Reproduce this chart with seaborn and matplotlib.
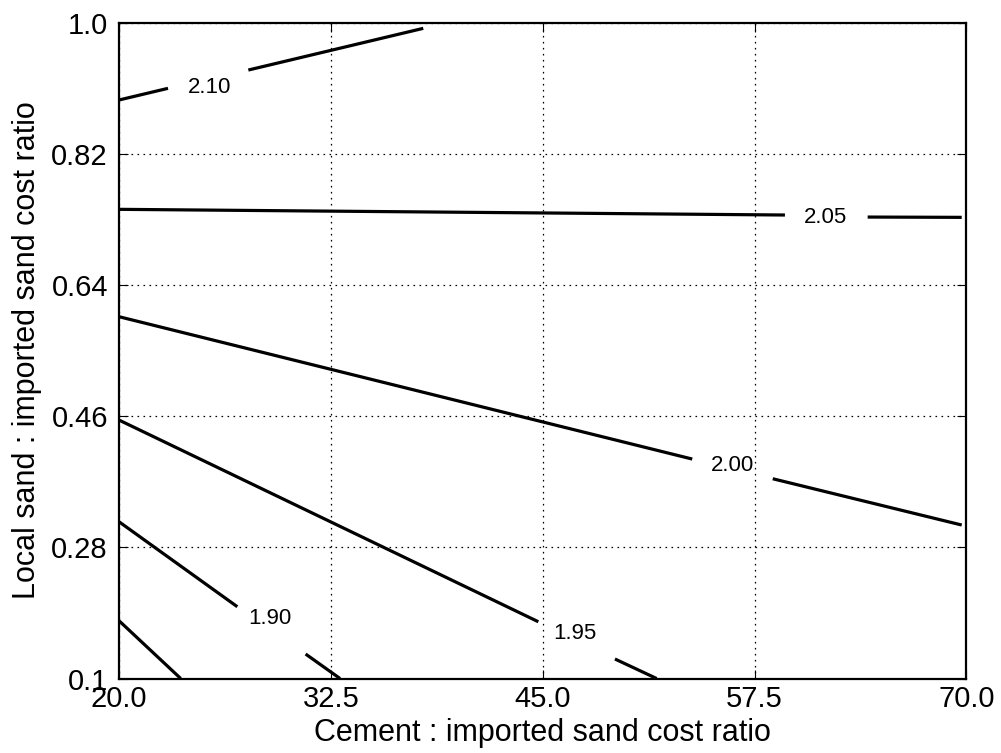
import matplotlib
matplotlib.use("Agg")
import matplotlib.pyplot as plt
import numpy as np
import pandas as pd
import seaborn as sns

# Contour lines of the cost surface, stored as straight segments
# (each labelled contour is split where its value label sits).
seg_level = [1.85, 1.90, 1.90, 1.95, 1.95, 2.00, 2.00, 2.05, 2.05, 2.10, 2.10]
seg_x0 = [20.00, 20.00, 31.01, 20.00, 49.26, 20.00, 58.57, 20.00, 64.17, 20.00, 27.63]
seg_y0 = [0.1793, 0.3151, 0.1336, 0.4546, 0.1268, 0.5964, 0.3741, 0.7437, 0.7331, 0.8937, 0.9348]
seg_x1 = [23.64, 26.98, 33.04, 44.74, 51.72, 53.82, 69.72, 59.29, 69.72, 22.89, 37.95]
seg_y1 = [0.1000, 0.1985, 0.1000, 0.1779, 0.1000, 0.4011, 0.3106, 0.7359, 0.7327, 0.9097, 0.9920]

# Contour value labels
label_text = ["1.90", "1.95", "2.00", "2.05", "2.10"]
label_x = [28.91, 46.90, 56.20, 61.71, 25.37]
label_y = [0.1851, 0.1652, 0.3956, 0.7352, 0.9142]

# Axis ticks
x_ticks = [20.0, 32.5, 45.0, 57.5, 70.0]
x_tick_labels = ["20.0", "32.5", "45.0", "57.5", "70.0"]
y_ticks = [0.1, 0.28, 0.46, 0.64, 0.82, 1.0]
y_tick_labels = ["0.1", "0.28", "0.46", "0.64", "0.82", "1.0"]

sns.set_style("ticks")
plt.rcParams["font.family"] = ["Liberation Sans", "DejaVu Sans"]
plt.rcParams.update({
    "text.color": "black",
    "axes.labelcolor": "black",
    "xtick.color": "black",
    "ytick.color": "black",
    "axes.edgecolor": "black",
})

rows = []
for i, lev in enumerate(seg_level):
    rows.append({"segment": i, "level": lev, "x": seg_x0[i], "y": seg_y0[i]})
    rows.append({"segment": i, "level": lev, "x": seg_x1[i], "y": seg_y1[i]})
df = pd.DataFrame(rows)

fig = plt.figure(figsize=(10.01, 7.53), dpi=100)
ax = fig.add_axes([0.1189, 0.0989, 0.8466, 0.8712])

sns.lineplot(data=df, x="x", y="y", units="segment", estimator=None,
             color="black", linewidth=2.3, sort=False, legend=False, ax=ax,
             solid_capstyle="butt")

for t, lx, ly in zip(label_text, label_x, label_y):
    ax.annotate(t, (lx, ly), xytext=(0, -5.7), textcoords="offset points",
                ha="center", va="baseline", fontsize=16, color="black")

ax.set_xlim(x_ticks[0], x_ticks[-1])
ax.set_ylim(y_ticks[0], y_ticks[-1])
ax.set_xticks(x_ticks)
ax.set_xticklabels(x_tick_labels)
ax.set_yticks(y_ticks)
ax.set_yticklabels(y_tick_labels)

ax.grid(True, color="black", linestyle=(0, (1.3, 3.5)), linewidth=0.9)
ax.set_axisbelow(True)

ax.tick_params(direction="in", length=6.5, width=0.8, labelsize=21,
               top=True, right=True, color="black", labelcolor="black")
ax.tick_params(axis="x", pad=5)
ax.tick_params(axis="y", pad=8)
for sp in ax.spines.values():
    sp.set_visible(True)
    sp.set_color("black")
    sp.set_linewidth(1.6)

ax.set_xlabel("Cement : imported sand cost ratio", fontsize=22, labelpad=3,
              color="black")
ax.set_ylabel("Local sand : imported sand cost ratio", fontsize=22, labelpad=7,
              color="black")

fig.savefig("out.png", dpi=100, facecolor="white")
